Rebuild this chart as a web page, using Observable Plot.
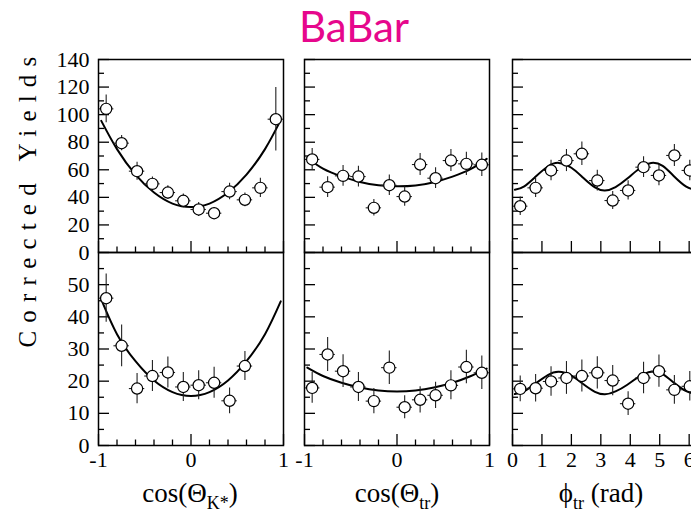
<!DOCTYPE html>
<html>
<head>
<meta charset="utf-8">
<script src="https://cdn.jsdelivr.net/npm/d3@7"></script>
<script src="https://cdn.jsdelivr.net/npm/@observablehq/plot@0.6"></script>
<style>
  html, body { margin: 0; padding: 0; background: white; }
  #root { position: relative; width: 691px; height: 513px; overflow: hidden; background: white; }
  .abs { position: absolute; }
  .title { font-family: Lato, "Open Sans", sans-serif; font-size: 42px; color: #e6078c; left: 0; width: 708px; text-align: center; top: 2px; line-height: 48px; }
  .ylab { font-family: "Liberation Serif", serif; font-size: 25px; letter-spacing: 8.2px; white-space: nowrap; width: 320px; text-align: center; line-height: 30px; }
  .xlab { font-family: "Liberation Serif", serif; font-size: 27px; white-space: nowrap; text-align: center; width: 200px; line-height: 30px; }
  .xlab sub { font-size: 18px; vertical-align: -7px; line-height: 0; }
  svg { max-width: none !important; }
</style>
</head>
<body>
<div id="root"></div>
<script>
// ---------- data ----------
const cosBins = [-0.917, -0.75, -0.583, -0.417, -0.25, -0.083, 0.083, 0.25, 0.417, 0.583, 0.75, 0.917];
const phiBins = [0.262, 0.785, 1.309, 1.833, 2.356, 2.880, 3.403, 3.927, 4.451, 4.974, 5.498, 6.021];
const cosHalfBin = 0.0833;
const phiHalfBin = 0.2618;

// top row
const topK_y   = [104.2, 79.3, 59.0, 49.8, 43.5, 37.5, 31.2, 28.5, 44.2, 38.2, 46.9, 96.7];
const topK_err = [10, 5.5, 6.5, 5, 5, 5, 5, 4, 6, 5, 7, 23];
const topT_y   = [67.5, 47.4, 55.6, 55.1, 32.4, 48.8, 40.6, 63.8, 53.9, 66.7, 64.3, 63.6];
const topT_err = [8, 7.5, 7.5, 7.5, 6, 7.5, 7, 8, 7.5, 8, 8.5, 8.5];
const topP_y   = [33.6, 46.9, 59.5, 66.7, 71.6, 52.2, 37.7, 45.0, 61.9, 55.9, 70.4, 59.5];
const topP_err = [6.7, 7, 7.5, 8, 8.5, 7.5, 6.5, 7, 7.5, 7.5, 8, 7.5];

// bottom row
const botK_y   = [45.8, 31.0, 17.7, 21.6, 22.7, 18.2, 18.75, 19.5, 13.9, 24.7];
const botK_err = [7.5, 6.5, 4.7, 4.8, 4.8, 4.5, 4.5, 4.8, 4.0, 4.5];
const botT_y   = [17.9, 28.3, 23.1, 18.2, 13.8, 24.2, 11.9, 14.2, 15.6, 18.7, 24.4, 22.6];
const botT_err = [4.8, 5.3, 5.1, 4.5, 3.9, 5.2, 3.6, 4.1, 4.1, 4.5, 5.2, 5.2];
const botP_y   = [17.6, 17.8, 19.9, 21.0, 21.6, 22.6, 20.2, 13.0, 21.0, 23.1, 17.3, 18.4];
const botP_err = [4.0, 4.3, 4.6, 5.1, 5.0, 5.0, 4.7, 3.7, 4.9, 5.0, 4.5, 4.6];

// fitted curves
const cosCurveX = [-0.97, -0.8, -0.6, -0.4, -0.2, 0, 0.2, 0.4, 0.6, 0.8, 0.97];
const topK_fit = [95.5, 75, 56.5, 43.5, 35.5, 33, 35.5, 43.5, 56.5, 75, 96];
const botK_fit = [45.4, 34.6, 26.2, 20.2, 16.6, 15.4, 16.6, 20.2, 26.2, 34.6, 44.8];
const topT_fit = [68.7, 60.8, 55.2, 51.2, 48.8, 48, 48.6, 51.0, 55.0, 60.6, 67.9];
const botT_fit = [24.2, 21.6, 19.5, 18.0, 17.1, 16.8, 17.1, 18.0, 19.5, 21.6, 23.9];
const phiCurveX = [0.08, 0.4, 0.8, 1.2, 1.57, 2.0, 2.4, 2.8, 3.14, 3.5, 3.9, 4.3, 4.71, 5.1, 5.5, 5.9, 6.2];
const topP_fit = [45.5, 48.0, 55.3, 62.4, 65, 61.5, 54.2, 47.2, 45, 47.5, 53.6, 60.8, 65, 62.8, 55.0, 47.8, 45.4];
const botP_fit = [16.0, 16.9, 19.4, 21.9, 22.9, 21.7, 19.1, 16.7, 15.9, 16.8, 18.9, 21.4, 22.9, 22.2, 19.4, 16.9, 16.0];

// tick values
const topYMajor = [0, 20, 40, 60, 80, 100, 120, 140];
const topYMinor = [10, 30, 50, 70, 90, 110, 130];
const botYMajor = [0, 10, 20, 30, 40, 50];
const botYMinor = [5, 15, 25, 35, 45, 55];
const cosXMajor = [-1, 0, 1];
const cosXMinor = [-0.8, -0.6, -0.4, -0.2, 0.2, 0.4, 0.6, 0.8];
const phiXMajor = [0, 1, 2, 3, 4, 5, 6];

// ---------- layout ----------
const root = document.getElementById("root");
const FW = 185, FH = 193;
const ML = 55, MR = 6, MT = 6;
const colLeft = [98, 304, 512];
const rowTop = [59, 252];

function fmt(d) { return d < 0 ? "-" + (-d) : String(d); }

function panel({col, row, xDomain, xs, half, ys, errs, fitX, fitY, xMajor, xMinor}) {
  const isBottom = row === 1;
  const yDomain = isBottom ? [0, 60] : [0, 140];
  const yMajor = isBottom ? botYMajor : topYMajor;
  const yMinor = isBottom ? botYMinor : topYMinor;
  const MB = isBottom ? 40 : 6;
  const data = ys.map((y, i) => ({x: xs[i], y, e: errs[i]}));
  const fit = fitX.map((x, i) => ({x, y: fitY[i]}));
  const marks = [
    Plot.tickY(yMajor, {y: d => d, insetRight: FW - 11, stroke: "black", strokeWidth: 1.3}),
    Plot.tickY(yMinor, {y: d => d, insetRight: FW - 6, stroke: "black", strokeWidth: 1.3}),
    Plot.tickX(xMajor, {x: d => d, insetTop: FH - 11, stroke: "black", strokeWidth: 1.3}),
    Plot.tickX(xMinor, {x: d => d, insetTop: FH - 5.5, stroke: "black", strokeWidth: 1.3}),
    Plot.line(fit, {x: "x", y: "y", curve: "natural", stroke: "black", strokeWidth: 2}),
    Plot.ruleX(data, {x: "x", y1: d => d.y - d.e, y2: d => d.y + d.e, stroke: "#222", strokeWidth: 1.1}),
    Plot.ruleY(data, {y: "y", x1: d => d.x - half, x2: d => d.x + half, stroke: "#222", strokeWidth: 1.1}),
    Plot.dot(data, {x: "x", y: "y", r: 5.6, fill: "white", stroke: "black", strokeWidth: 1.2}),
    Plot.frame({stroke: "black", strokeWidth: 1.5})
  ];
  if (col === 0) {
    marks.push(Plot.axisY(yMajor, {tickSize: 0, tickPadding: 9, fontSize: 22, fill: "black", tickFormat: fmt, label: null}));
  }
  if (isBottom) {
    marks.push(Plot.axisX(xMajor, {tickSize: 0, tickPadding: 6, fontSize: 22, fill: "black", tickFormat: fmt, label: null}));
  }
  const chart = Plot.plot({
    width: ML + FW + MR,
    height: MT + FH + MB,
    marginLeft: ML, marginRight: MR, marginTop: MT, marginBottom: MB,
    x: {domain: xDomain, axis: null, label: null},
    y: {domain: yDomain, axis: null, label: null},
    style: {background: "transparent", fontFamily: "'Liberation Serif', serif", overflow: "visible", color: "black"},
    marks
  });
  chart.classList.add("abs");
  chart.style.left = (colLeft[col] - ML) + "px";
  chart.style.top = (rowTop[row] - MT) + "px";
  root.appendChild(chart);
}

const cosDom = [-1, 1];
const phiDom = [0, 2 * Math.PI];
panel({col: 0, row: 0, xDomain: cosDom, xs: cosBins, half: cosHalfBin, ys: topK_y, errs: topK_err, fitX: cosCurveX, fitY: topK_fit, xMajor: cosXMajor, xMinor: cosXMinor});
panel({col: 1, row: 0, xDomain: cosDom, xs: cosBins, half: cosHalfBin, ys: topT_y, errs: topT_err, fitX: cosCurveX, fitY: topT_fit, xMajor: cosXMajor, xMinor: cosXMinor});
panel({col: 2, row: 0, xDomain: phiDom, xs: phiBins, half: phiHalfBin, ys: topP_y, errs: topP_err, fitX: phiCurveX, fitY: topP_fit, xMajor: phiXMajor, xMinor: []});
panel({col: 0, row: 1, xDomain: cosDom, xs: cosBins, half: cosHalfBin, ys: botK_y, errs: botK_err, fitX: cosCurveX, fitY: botK_fit, xMajor: cosXMajor, xMinor: cosXMinor});
panel({col: 1, row: 1, xDomain: cosDom, xs: cosBins, half: cosHalfBin, ys: botT_y, errs: botT_err, fitX: cosCurveX, fitY: botT_fit, xMajor: cosXMajor, xMinor: cosXMinor});
panel({col: 2, row: 1, xDomain: phiDom, xs: phiBins, half: phiHalfBin, ys: botP_y, errs: botP_err, fitX: phiCurveX, fitY: botP_fit, xMajor: phiXMajor, xMinor: []});

// ---------- text ----------
const title = document.createElement("div");
title.className = "abs title";
title.textContent = "BaBar";
root.appendChild(title);

const ylab = document.createElement("div");
ylab.className = "abs ylab";
ylab.textContent = "Corrected Yields";
ylab.style.left = (28 - 160) + "px";
ylab.style.top = (198 - 15) + "px";
ylab.style.transform = "rotate(-90deg)";
root.appendChild(ylab);

const xlabs = [
  {html: "cos(Θ<sub>K*</sub>)", cx: 190},
  {html: "cos(Θ<sub>tr</sub>)", cx: 397},
  {html: "ϕ<sub>tr</sub> (rad)", cx: 601}
];
for (const l of xlabs) {
  const d = document.createElement("div");
  d.className = "abs xlab";
  d.innerHTML = l.html;
  d.style.left = (l.cx - 100) + "px";
  d.style.top = "478px";
  root.appendChild(d);
}
</script>
</body>
</html>
